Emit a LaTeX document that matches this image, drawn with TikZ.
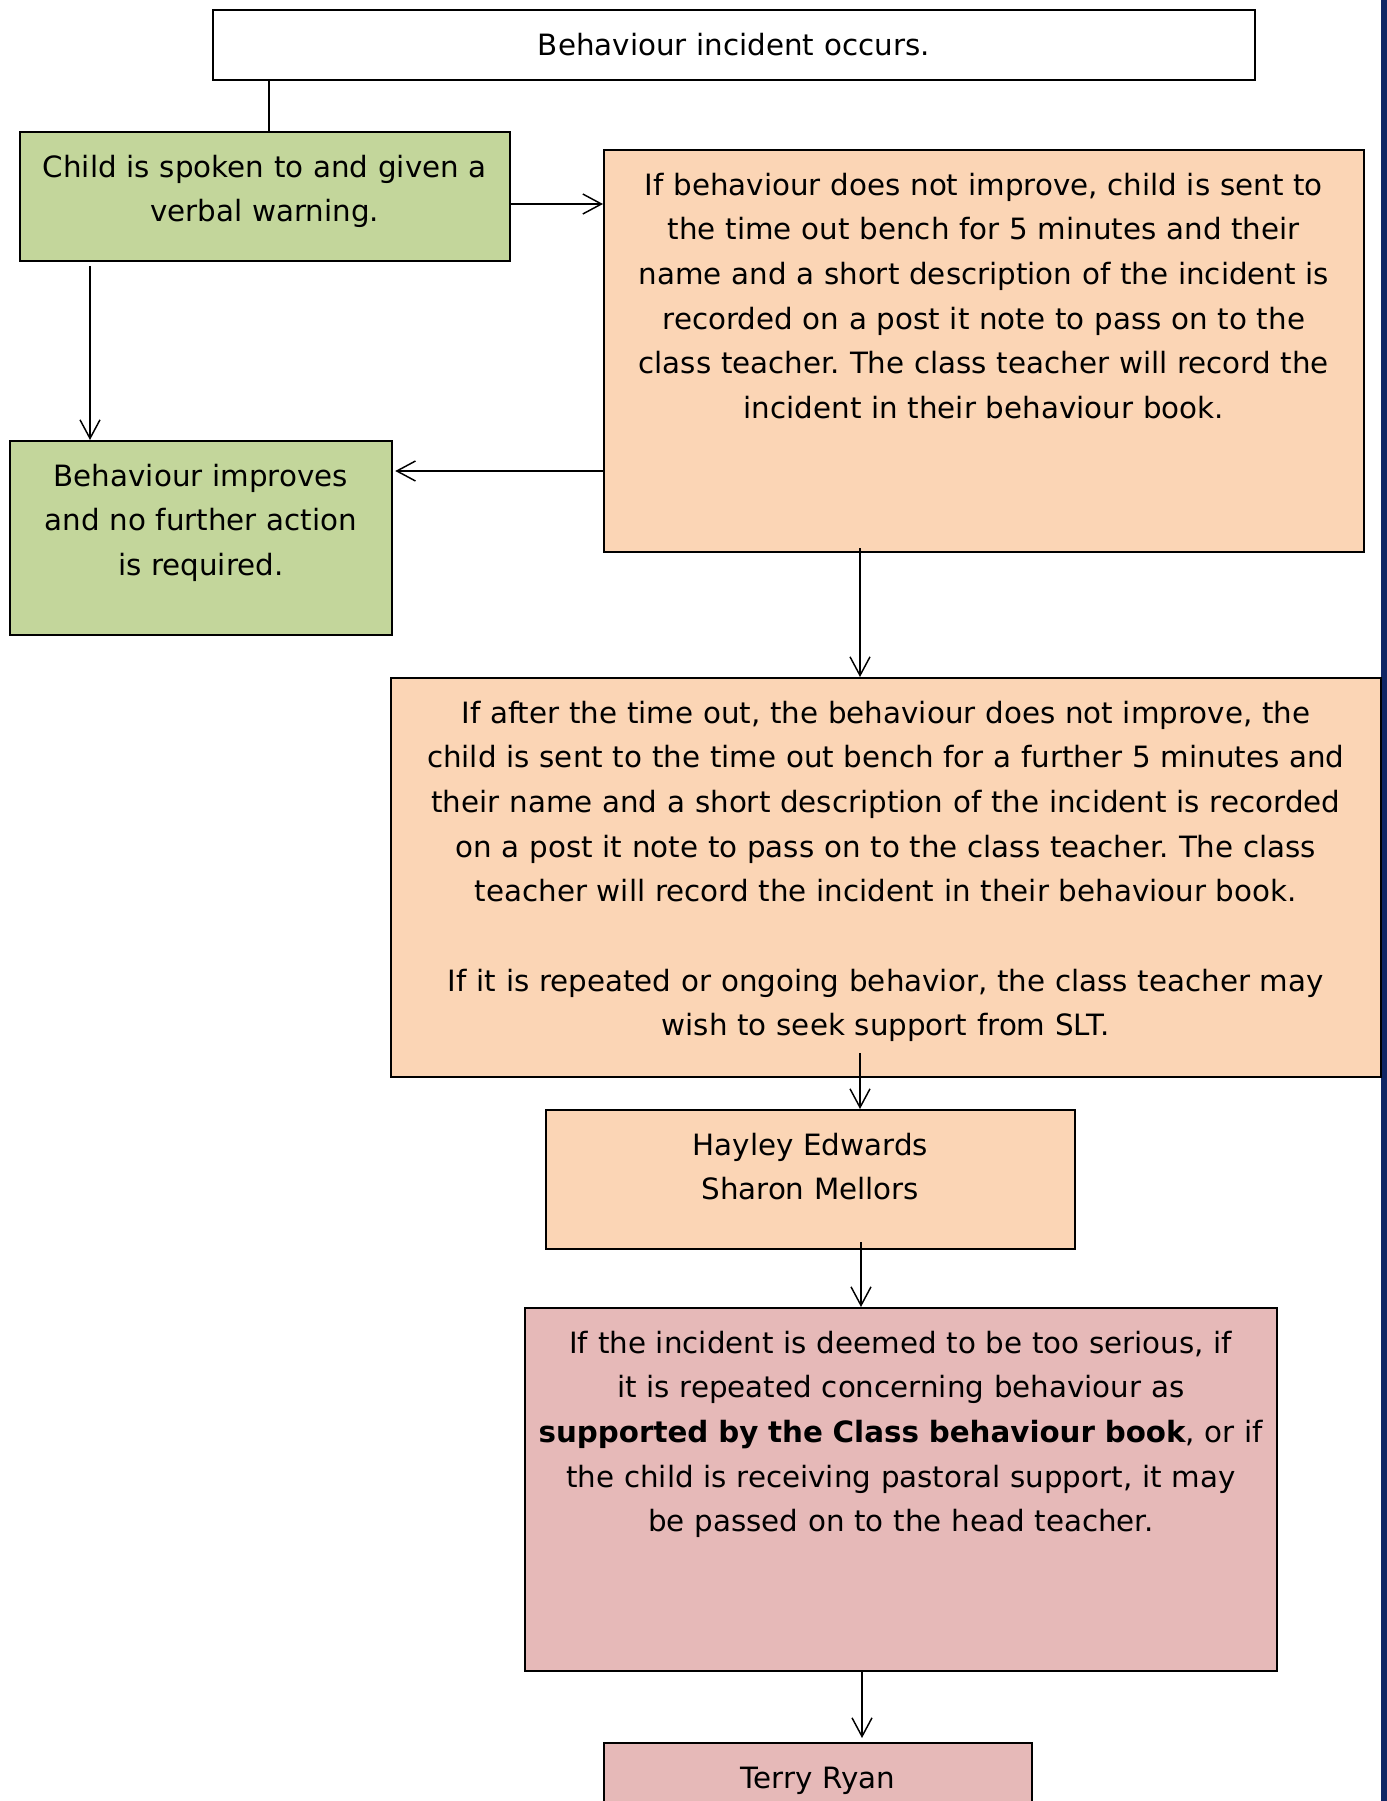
\documentclass[tikz,border=0pt]{standalone}
\usepackage{fontspec}
\setmainfont{DejaVu Sans}
\usetikzlibrary{arrows.meta}
\definecolor{gfill}{RGB}{195,214,155}
\definecolor{ofill}{RGB}{251,213,181}
\definecolor{pfill}{RGB}{230,185,184}
\definecolor{navybar}{RGB}{16,38,100}
\begin{document}
\frenchspacing
\begin{tikzpicture}[x=0.75pt,y=-0.75pt,
  bx/.style={draw=black, line width=1.2pt, anchor=north west, align=center,
    inner ysep=0pt, inner xsep=-20pt, text height=34pt,
    font=\fontsize{22pt}{33.5pt}\selectfont\frenchspacing},
  con/.style={line width=1.1pt},
  arr/.style={con, -{Straight Barb[length=14pt,width=15pt,line width=1.1pt]}}]
\clip (0,0) rectangle (1387,1801);
\fill[white] (0,0) rectangle (1387,1801);
\fill[navybar] (1381,0) rectangle (1387,1801);

\node[bx, fill=white, text width=821.5pt, text depth=18.5pt] (top) at (212,9)
  {Behaviour incident occurs.};
\node[bx, fill=gfill, text width=407.5pt, text depth=62.75pt] (g1) at (19,131)
  {Child is spoken to and given a\\verbal warning.};
\node[bx, fill=ofill, text width=610pt, text depth=267.5pt] (o1) at (603,149)
  {If behaviour does not improve, child is sent to\\
   the time out bench for 5 minutes and their\\
   name and a short description of the incident is\\
   recorded on a post it note to pass on to the\\
   class teacher. The class teacher will record the\\
   incident in their behaviour book.};
\node[bx, fill=gfill, text width=326.5pt, text depth=111.5pt] (g2) at (9,440)
  {Behaviour improves\\and no further action\\is required.};
\node[bx, fill=ofill, text width=782.5pt, text depth=265.25pt] (o2) at (390,677)
  {If after the time out, the behaviour does not improve, the\\
   child is sent to the time out bench for a further 5 minutes and\\
   their name and a short description of the incident is recorded\\
   on a post it note to pass on to the class teacher. The class\\
   teacher will record the incident in their behaviour book.\\[33.5pt]
   If it is repeated or ongoing behavior, the class teacher may\\
   wish to seek support from SLT.};
\node[bx, fill=ofill, text width=436.75pt, text depth=70.25pt] (hay) at (545,1109)
  {Hayley Edwards\\Sharon Mellors};
\node[bx, fill=pfill, text width=604pt, text depth=238.25pt] (pk) at (524,1307)
  {If the incident is deemed to be too serious, if\\
   it is repeated concerning behaviour as\\
   \textbf{supported by the Class behaviour book}, or if\\
   the child is receiving pastoral support, it may\\
   be passed on to the head teacher.};
\node[bx, fill=pfill, text width=361pt, text depth=56pt] (ter) at (603,1742)
  {Terry Ryan};

\coordinate (c1) at (269,0);
\coordinate (c2) at (0,204);
\coordinate (c3) at (90,266);
\coordinate (c4) at (0,471);
\coordinate (c5) at (860,548);
\coordinate (c6) at (860,1053);
\coordinate (c7) at (861,1242);
\coordinate (c8) at (862,0);

\draw[con] (top.south -| c1) -- (g1.north -| c1);
\draw[arr] (g1.east |- c2) -- (o1.west |- c2);
\draw[arr] (c3) -- (g2.north -| c3);
\draw[arr, shorten >=2pt] (o1.west |- c4) -- (g2.east |- c4);
\draw[arr] (c5) -- (o2.north -| c5);
\draw[arr] (c6) -- (hay.north -| c6);
\draw[arr] (c7) -- (pk.north -| c7);
\draw[arr, shorten >=3pt] (pk.south -| c8) -- (ter.north -| c8);
\end{tikzpicture}
\end{document}
